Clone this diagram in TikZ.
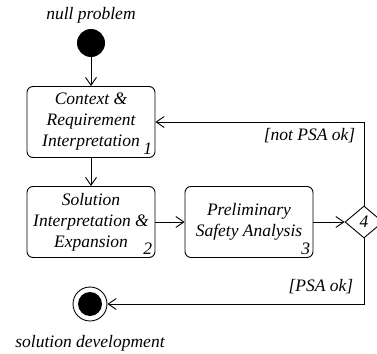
\documentclass[tikz,border=0pt]{standalone}
\usepackage{fontspec}
\setmainfont{Liberation Serif}
\usetikzlibrary{arrows.meta,shapes.geometric}
\tikzset{
  activity/.style={draw, rounded corners=6pt, minimum width=128pt, minimum height=71pt, align=center, inner sep=0pt},
  flow/.style={-{Straight Barb[length=8pt,width=11pt]}},
  num/.style={anchor=south east, inner sep=3pt}
}
\begin{document}
\begin{tikzpicture}[x=1pt,y=-1pt,line width=0.9pt,font=\fontsize{17.5}{21}\selectfont\itshape]
    \useasboundingbox (0,0) rectangle (377,353);
    % start and end
    \node (start) [circle, fill=black, minimum size=28pt, inner sep=0pt] at (91,43) {};
    \node (startlbl) at (91,15) {null problem};
    \node (stop) [circle, draw, minimum size=34pt, inner sep=0pt] at (90,304) {};
    \fill (stop.center) circle (12pt);
    \node (stoplbl) at (90,343) {solution development};
    % activities
    \node (ctx) [activity] at (91,122) {Context \&\\Requirement\\Interpretation};
    \node [num] at (ctx.south east) {1};
    \node (sol) [activity] at (91,222) {Solution\\Interpretation \&\\Expansion};
    \node [num] at (sol.south east) {2};
    \node (psa) [activity] at (249,222) {Preliminary\\Safety Analysis};
    \node [num] at (psa.south east) {3};
    \node (dec) [diamond, draw, minimum width=38pt, minimum height=32pt, inner sep=0pt] at (364,222) {4};
    % flows
    \draw [flow] (start) -- (ctx);
    \draw [flow] (ctx) -- (sol);
    \draw [flow] (sol) -- (psa);
    \draw [flow] (psa) -- (dec);
    \draw [flow] (dec.north) |- (ctx.east);
    \draw [flow] (dec.south) |- (stop.east);
    \node [anchor=east] at (359,136) {[not PSA ok]};
    \node [anchor=east] at (357,287) {[PSA ok]};
  \end{tikzpicture}
\end{document}
